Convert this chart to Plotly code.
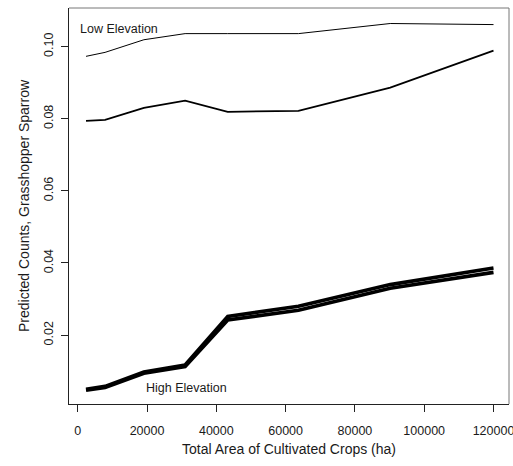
import plotly.graph_objects as go

# Total area of cultivated crops (ha) at which predictions were made
crop_area = [2400, 7900, 19100, 31000, 43300, 63700, 90200, 120000]

# Predicted Grasshopper Sparrow counts
low_elev_a = [0.0973, 0.0984, 0.1019, 0.1036, 0.1036, 0.1036, 0.1064, 0.1061]
low_elev_b = [0.0794, 0.0797, 0.0830, 0.0850, 0.0819, 0.0822, 0.0886, 0.0989]
high_elev_a = [0.0050, 0.0058, 0.0098, 0.0117, 0.0252, 0.0280, 0.0340, 0.0386]
high_elev_b = [0.0047, 0.0055, 0.0094, 0.0113, 0.0242, 0.0269, 0.0330, 0.0374]

x_ticks = [0, 20000, 40000, 60000, 80000, 100000, 120000]
x_tick_text = ["0", "20000", "40000", "60000", "80000", "100000", "120000"]
y_ticks = [0.02, 0.04, 0.06, 0.08, 0.10]
y_tick_text = ["0.02", "0.04", "0.06", "0.08", "0.10"]

FONT = "Liberation Sans, Arial, Helvetica, sans-serif"
INK = "#1a1a1a"

fig = go.Figure()

series = [
    (low_elev_a, 1.0),
    (low_elev_b, 1.8),
    (high_elev_a, 3.6),
    (high_elev_b, 3.6),
]
for ys, w in series:
    fig.add_trace(go.Scatter(
        x=crop_area, y=ys, mode="lines",
        line=dict(color="black", width=w),
        hoverinfo="skip", showlegend=False,
    ))

fig.add_annotation(x=0, y=0.1050, xref="x", yref="y", text="Low Elevation",
                   showarrow=False, xanchor="left", yanchor="middle",
                   font=dict(family=FONT, size=12.5, color=INK))
fig.add_annotation(x=31500, y=0.0054, xref="x", yref="y", text="High Elevation",
                   showarrow=False, xanchor="center", yanchor="middle",
                   font=dict(family=FONT, size=12.5, color=INK))

# top and right edges of the plot box
fig.add_shape(type="line", xref="paper", yref="paper", x0=0, x1=1, y0=1, y1=1,
              line=dict(color="#777", width=1))
fig.add_shape(type="line", xref="paper", yref="paper", x0=1, x1=1, y0=0, y1=1,
              line=dict(color="#777", width=1))

fig.update_layout(
    width=513, height=466,
    margin=dict(l=69, r=4, t=8, b=62),
    paper_bgcolor="white", plot_bgcolor="white",
    font=dict(family=FONT, color=INK),
    xaxis=dict(
        range=[-2511, 124473],
        tickvals=x_ticks, ticktext=x_tick_text,
        ticks="outside", ticklen=7, tickcolor="#222", tickwidth=1,
        ticklabelstandoff=8, ticklabeloverflow="allow", automargin=False,
        showline=True, linecolor="#222", linewidth=1,
        showgrid=False, zeroline=False,
        tickfont=dict(size=12.5, color=INK),
        title=dict(text="Total Area of Cultivated Crops (ha)",
                   font=dict(size=14, color=INK), standoff=7),
    ),
    yaxis=dict(
        range=[0.0009, 0.1107],
        tickvals=y_ticks, ticktext=y_tick_text,
        tickangle=-90,
        ticks="outside", ticklen=7, tickcolor="#222", tickwidth=1,
        ticklabelstandoff=3, ticklabeloverflow="allow", automargin=False,
        showline=True, linecolor="#222", linewidth=1,
        showgrid=False, zeroline=False,
        tickfont=dict(size=12.5, color=INK),
        title=dict(text="Predicted Counts, Grasshopper Sparrow",
                   font=dict(size=14, color=INK), standoff=9),
    ),
)

fig.write_html("out.html")
